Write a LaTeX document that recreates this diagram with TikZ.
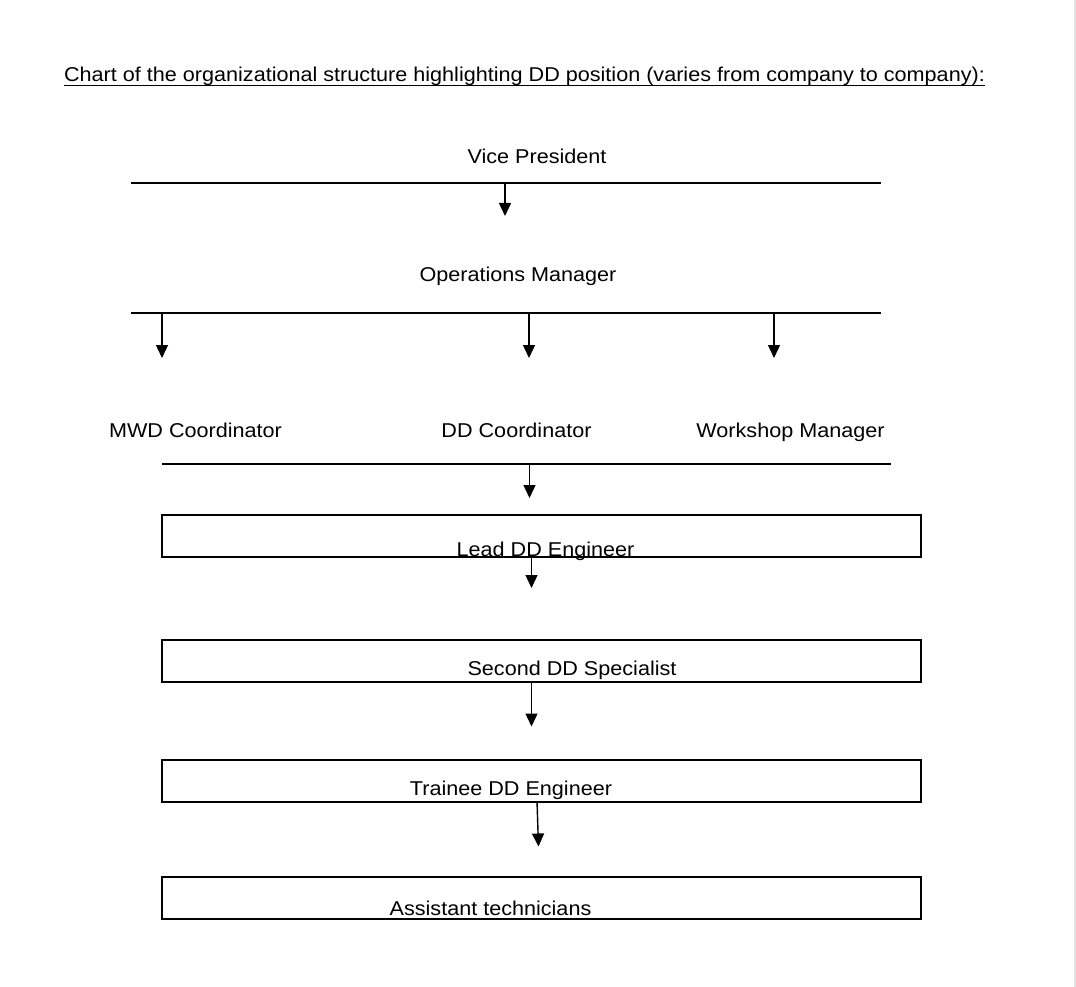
\documentclass[tikz,border=0pt]{standalone}
\usepackage{fontspec}
\setmainfont{Liberation Sans}[FakeStretch=1.08]
\usetikzlibrary{arrows.meta}
\tikzset{
  lbl/.style={inner sep=0pt, anchor=base, font=\fontsize{20}{24}\selectfont, text=black},
  bar/.style={line width=2pt, black},
  boxnode/.style={draw=black, line width=2pt, minimum width=759pt, minimum height=42pt, inner sep=0pt, anchor=north west},
  conn/.style={line width=1.4pt, black, -{Triangle[width=12pt,length=13pt]}},
}
\begin{document}
\begin{tikzpicture}[x=1pt,y=-1pt]
\useasboundingbox (0,0) rectangle (1076,987);
\fill[white] (0,0) rectangle (1076,987);
\draw[line width=1.5pt, color={rgb,255:red,228;green,228;blue,228}] (1075,0) -- (1075,987);

% title
\node[lbl] (title) at (524.5,82) {Chart of the organizational structure highlighting DD position (varies from company to company):};
\draw[line width=1pt] ([yshift=-3.5pt]title.base west) -- ([yshift=-3.5pt]title.base east);

% level texts
\node[lbl] (vp) at (537,164) {Vice President};
\node[lbl] (om) at (518,281) {Operations Manager};
\node[lbl] (mwd) at (195.5,437) {MWD Coordinator};
\node[lbl] (ddc) at (516.5,437) {DD Coordinator};
\node[lbl] (wm) at (790.5,437) {Workshop Manager};

% bars
\coordinate (b1l) at (131,183); \coordinate (b1r) at (881,183);
\coordinate (b2l) at (131,313); \coordinate (b2r) at (881,313);
\coordinate (b3l) at (162,464); \coordinate (b3r) at (891,464);
\draw[bar] (b1l) -- (b1r);
\draw[bar] (b2l) -- (b2r);
\draw[bar] (b3l) -- (b3r);

% texts of the boxes (drawn first, so the box outline covers the lead text's baseline)
\node[lbl] (leadt) at (545.5,556) {Lead DD Engineer};
\node[lbl] (secondt) at (572,675) {Second DD Specialist};
\node[lbl] (traineet) at (511,795) {Trainee DD Engineer};
\node[lbl] (assistt) at (490.5,915) {Assistant technicians};

% boxes
\node[boxnode] (lead) at (161,514) {};
\node[boxnode] (second) at (161,639) {};
\node[boxnode] (trainee) at (161,759) {};
\node[boxnode] (assist) at (161,876) {};

% arrow anchors
\coordinate (a1s) at (505,183); \coordinate (a1e) at (505,216);
\coordinate (a2s) at (162,313); \coordinate (a2e) at (162,358);
\coordinate (a3s) at (529,313); \coordinate (a3e) at (529,358);
\coordinate (a4s) at (774,313); \coordinate (a4e) at (774,358);
\coordinate (a5s) at (529.5,464); \coordinate (a5e) at (529.5,498);
\coordinate (a6s) at (531.5,556); \coordinate (a6e) at (531.5,588);
\coordinate (a7s) at (531.5,681); \coordinate (a7e) at (531.5,726.5);
\coordinate (a8s) at (537,801); \coordinate (a8e) at (538.5,846.5);

\draw[conn] (a1s) -- (a1e);
\draw[conn] (a2s) -- (a2e);
\draw[conn] (a3s) -- (a3e);
\draw[conn] (a4s) -- (a4e);
\draw[conn] (a5s) -- (a5e);
\draw[conn] (a6s) -- (a6e);
\draw[conn] (a7s) -- (a7e);
\draw[conn] (a8s) -- (a8e);
\end{tikzpicture}
\end{document}
